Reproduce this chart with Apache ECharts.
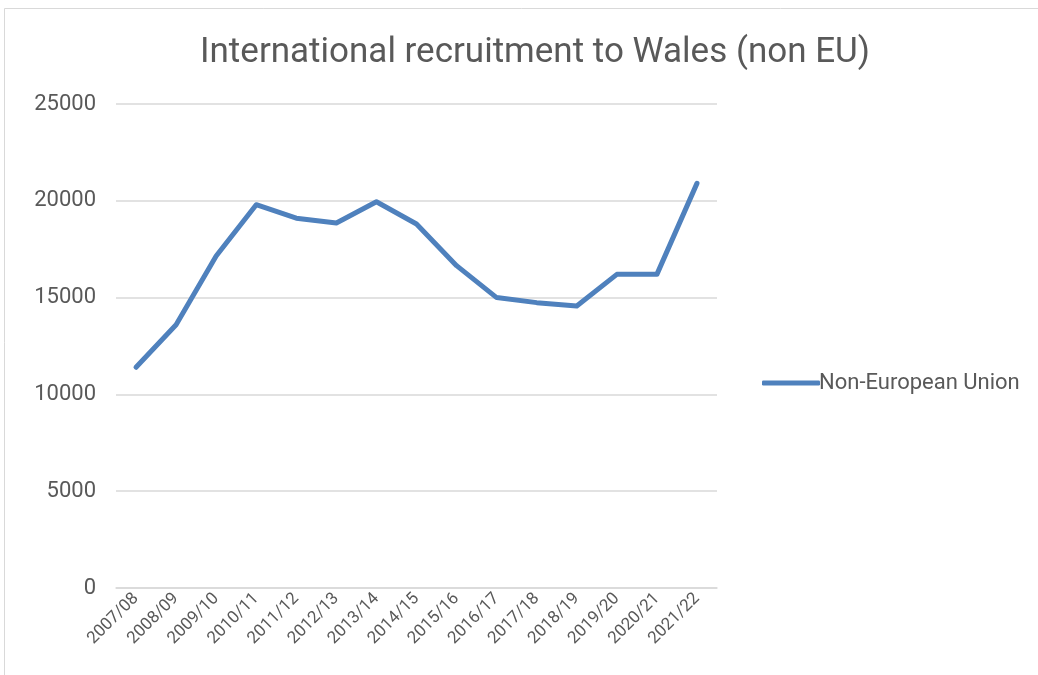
<!DOCTYPE html>
<html>
<head>
<meta charset="utf-8">
<script src="https://cdn.jsdelivr.net/npm/echarts@6/dist/echarts.min.js"></script>
<style>
html, body { margin: 0; padding: 0; background: #fff; }
#chart { width: 1038px; height: 675px; }
</style>
</head>
<body>
<div id="chart"></div>
<script>
var years = ['2007/08', '2008/09', '2009/10', '2010/11', '2011/12', '2012/13', '2013/14', '2014/15',
    '2015/16', '2016/17', '2017/18', '2018/19', '2019/20', '2020/21', '2021/22'];
var nonEU = [11400, 13600, 17150, 19800, 19100, 18850, 19950, 18800,
    16650, 15000, 14740, 14570, 16200, 16200, 20900];
var yTicks = [0, 5000, 10000, 15000, 20000, 25000];

var myChart = echarts.init(document.getElementById('chart'));
var option = {
    textStyle: { fontFamily: 'Roboto' },
    title: {
        text: 'International recruitment to Wales (non EU)',
        left: 530,
        textAlign: 'center',
        top: 31,
        textStyle: { fontSize: 35, fontWeight: 'normal', color: '#595959', fontFamily: 'Roboto' }
    },
    graphic: [{
        type: 'rect',
        shape: { x: 4.5, y: 8.5, width: 1040, height: 670 },
        style: { fill: 'none', stroke: '#d9d9d9', lineWidth: 1 },
        silent: true
    }],
    legend: {
        orient: 'vertical',
        left: 757,
        top: 367,
        itemWidth: 58,
        itemHeight: 5,
        itemGap: 0,
        icon: 'roundRect',
        textStyle: { fontSize: 22, color: '#595959', padding: [0, 0, 0, -6] },
        data: ['Non-European Union']
    },
    grid: { left: 116, right: 321, top: 104, bottom: 87 },
    xAxis: {
        type: 'category',
        data: years,
        boundaryGap: true,
        axisLine: { lineStyle: { color: '#d9d9d9', width: 1.5 } },
        axisTick: { show: false },
        axisLabel: { rotate: 45, fontSize: 17, color: '#595959', margin: 8, interval: 0 }
    },
    yAxis: {
        type: 'value',
        min: yTicks[0],
        max: yTicks[yTicks.length - 1],
        interval: 5000,
        axisLine: { show: false },
        axisTick: { show: false },
        axisLabel: {
            fontSize: 22, color: '#595959', margin: 20,
            formatter: function (v) { return String(v); }
        },
        splitLine: { lineStyle: { color: '#d9d9d9', width: 1.5 } }
    },
    series: [{
        name: 'Non-European Union',
        type: 'line',
        data: nonEU,
        symbol: 'none',
        lineStyle: { color: '#4f81bd', width: 5, cap: 'round', join: 'round' },
        itemStyle: { color: '#4f81bd' }
    }]
};
myChart.setOption(option);
</script>
</body>
</html>
